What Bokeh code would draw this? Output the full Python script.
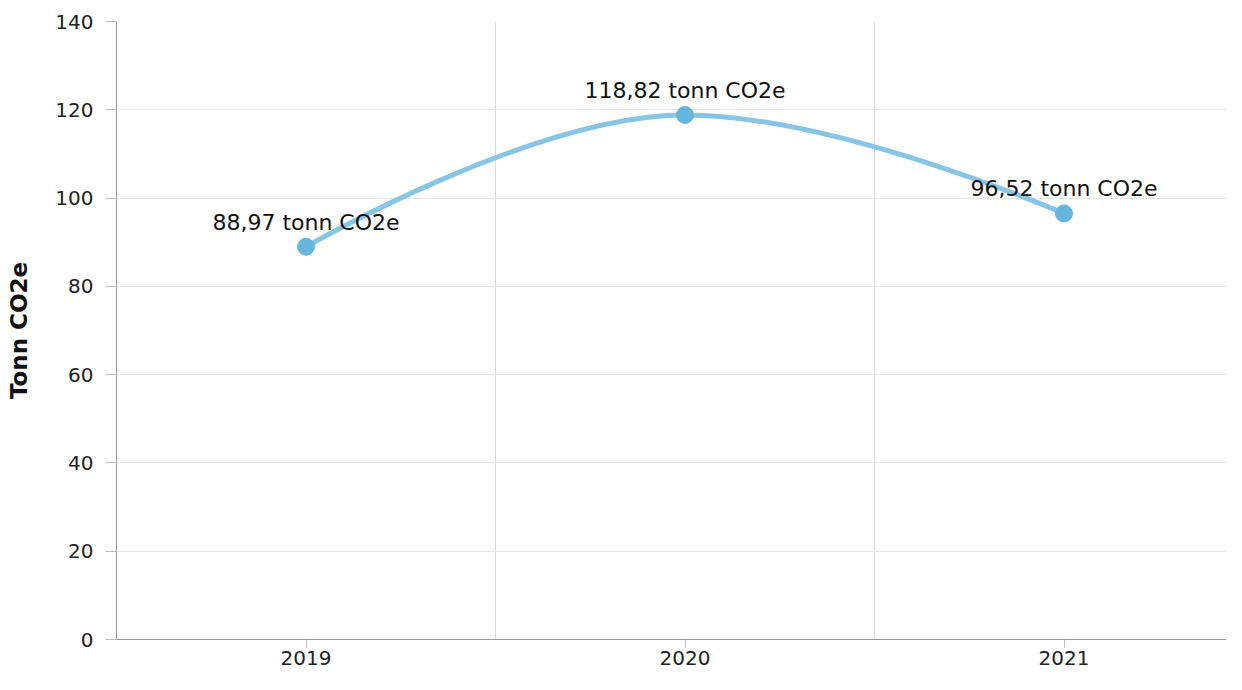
from bokeh.plotting import figure
from bokeh.models import FixedTicker, Range1d, ColumnDataSource
from bokeh.embed import file_html
from bokeh.resources import INLINE
from bokeh.core.properties import value

years = ["2019", "2020", "2021"]
emissions = [88.97, 118.82, 96.52]
labels = ["88,97 tonn CO2e", "118,82 tonn CO2e", "96,52 tonn CO2e"]
y_ticks = [0, 20, 40, 60, 80, 100, 120, 140]

FONT = "DejaVu Sans"
xs = list(range(len(years)))

# Spline control points (Highcharts-style smoothing) derived from the data
smoothing, denom = 1.5, 2.5
left_c, right_c = {}, {}
for i in range(1, len(xs) - 1):
    px, py = xs[i], emissions[i]
    lx, ly = xs[i - 1], emissions[i - 1]
    nx, ny = xs[i + 1], emissions[i + 1]
    lcx = (smoothing * px + lx) / denom
    lcy = (smoothing * py + ly) / denom
    rcx = (smoothing * px + nx) / denom
    rcy = (smoothing * py + ny) / denom
    corr = ((rcy - lcy) * (rcx - px)) / (rcx - lcx) + py - rcy
    lcy += corr
    rcy += corr
    if lcy > max(ly, py):
        lcy = max(ly, py); rcy = 2 * py - lcy
    elif lcy < min(ly, py):
        lcy = min(ly, py); rcy = 2 * py - lcy
    if rcy > max(py, ny):
        rcy = max(py, ny); lcy = 2 * py - rcy
    elif rcy < min(py, ny):
        rcy = min(py, ny); lcy = 2 * py - rcy
    left_c[i] = (lcx, lcy)
    right_c[i] = (rcx, rcy)

seg = dict(x0=[], y0=[], x1=[], y1=[], cx0=[], cy0=[], cx1=[], cy1=[])
for i in range(1, len(xs)):
    seg["x0"].append(xs[i - 1]); seg["y0"].append(emissions[i - 1])
    seg["x1"].append(xs[i]); seg["y1"].append(emissions[i])
    c0 = right_c.get(i - 1, (xs[i - 1], emissions[i - 1]))
    c1 = left_c.get(i, (xs[i], emissions[i]))
    seg["cx0"].append(c0[0]); seg["cy0"].append(c0[1])
    seg["cx1"].append(c1[0]); seg["cy1"].append(c1[1])

W, H = 1226, 674
LEFT = 116
p = figure(width=W, height=H, output_backend="svg", toolbar_location=None,
           x_range=Range1d(-0.5, -0.5 + (W - LEFT) / 379.0),
           y_range=Range1d(0, 140),
           min_border_left=LEFT, min_border_top=21, min_border_right=0, min_border_bottom=35)
p.outline_line_color = None

p.bezier(x0="x0", y0="y0", x1="x1", y1="y1", cx0="cx0", cy0="cy0", cx1="cx1", cy1="cy1",
         source=ColumnDataSource(seg), line_color="#86c5e6", line_width=5)

src = ColumnDataSource(dict(x=xs, y=emissions, label=labels))
p.scatter("x", "y", source=src, size=17, fill_color="#66b5dd", line_color="#66b5dd")
p.text("x", "y", text="label", source=src, text_align="center", text_baseline="bottom",
       y_offset=-12, text_font=value(FONT), text_font_size="22px", text_color="#111111")

# axes
p.xaxis.ticker = FixedTicker(ticks=xs)
p.xaxis.major_label_overrides = {i: y for i, y in enumerate(years)}
p.xaxis.major_tick_out = 8
p.xaxis.major_tick_in = 0
p.xaxis.minor_tick_line_color = None
p.xaxis.axis_line_color = "#999999"
p.xaxis.major_tick_line_color = "#bbbbbb"
p.xaxis.major_label_text_font = FONT
p.xaxis.major_label_text_font_size = "20px"
p.xaxis.major_label_text_color = "#222222"
p.xaxis.major_label_standoff = 3

p.yaxis.ticker = FixedTicker(ticks=y_ticks)
p.yaxis.major_tick_out = 11
p.yaxis.major_tick_in = 0
p.yaxis.minor_tick_line_color = None
p.yaxis.axis_line_color = "#999999"
p.yaxis.major_tick_line_color = "#bbbbbb"
p.yaxis.major_label_text_font = FONT
p.yaxis.major_label_text_font_size = "20px"
p.yaxis.major_label_text_color = "#222222"
p.yaxis.major_label_standoff = 12
p.yaxis.axis_label = "Tonn CO2e"
p.yaxis.axis_label_text_font = FONT
p.yaxis.axis_label_text_font_style = "bold"
p.yaxis.axis_label_text_font_size = "23px"
p.yaxis.axis_label_text_color = "#111111"
p.yaxis.axis_label_standoff = 20

# grids
p.xgrid.ticker = FixedTicker(ticks=[x + 0.5 for x in xs])
p.xgrid.grid_line_color = "#dadada"
p.ygrid.ticker = FixedTicker(ticks=y_ticks)
p.ygrid.grid_line_color = "#e6e6e6"

open("out.html", "w").write(file_html(p, INLINE))
